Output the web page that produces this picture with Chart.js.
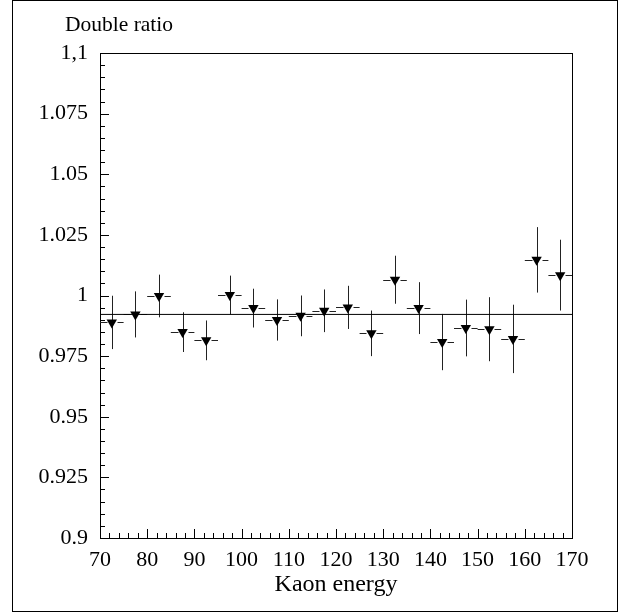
<!DOCTYPE html>
<html>
<head>
<meta charset="utf-8">
<script src="https://cdn.jsdelivr.net/npm/chart.js@4.4.0/dist/chart.umd.min.js"></script>
<style>
html, body { margin: 0; padding: 0; background: #fff; }
#chart { display: block; }
</style>
</head>
<body>
<canvas id="chart" width="619" height="614"></canvas>
<script>
// kaon energy bins (centres) and half widths
const energy = [72.5, 77.5, 82.5, 87.5, 92.5, 97.5, 102.5, 107.5, 112.5, 117.5,
                122.5, 127.5, 132.5, 137.5, 142.5, 147.5, 152.5, 157.5, 162.5, 167.5];
const energyErr = [2.5, 2.5, 2.5, 2.5, 2.5, 2.5, 2.5, 2.5, 2.5, 2.5,
                   2.5, 2.5, 2.5, 2.5, 2.5, 2.5, 2.5, 2.5, 2.5, 2.5];
const ratio = [0.9889, 0.9922, 0.9998, 0.9849, 0.9815, 1.0002, 0.9948, 0.9899, 0.9916, 0.9937,
               0.9951, 0.9844, 1.0065, 0.9948, 0.9808, 0.9866, 0.9861, 0.9821, 1.0147, 1.0084];
const ratioErr = [0.0110, 0.0095, 0.0088, 0.0082, 0.0082, 0.0080, 0.0080, 0.0085, 0.0084, 0.0088,
                  0.0089, 0.0094, 0.0099, 0.0107, 0.0116, 0.0117, 0.0132, 0.0141, 0.0135, 0.0146];
const fitLevel = [0.9922];
const yTickLabels = ['0.9', '0.925', '0.95', '0.975', '1', '1.025', '1.05', '1.075', '1,1'];

const serif = '"Liberation Serif", "DejaVu Serif", serif';

// frame, inner ticks, error bars, outer box and the y title
const rootStyle = {
    id: 'rootStyle',
    beforeDatasetsDraw(chart) {
        const ctx = chart.ctx;
        const xs = chart.scales.x, ys = chart.scales.y;
        const {left, right, top, bottom} = chart.chartArea;
        ctx.save();
        ctx.strokeStyle = '#000';
        ctx.lineWidth = 1;

        // outer box
        ctx.strokeRect(12.5, 0.5, 605, 611);

        // plot frame
        ctx.strokeRect(left + 0.5, top + 0.5, right - left, bottom - top);

        // ticks inside the frame
        ctx.beginPath();
        for (let i = 0; i <= 50; i++) {
            const px = Math.round(xs.getPixelForValue(70 + i * 2)) + 0.5;
            const len = i % 5 === 0 ? 9 : 5;
            ctx.moveTo(px, bottom);
            ctx.lineTo(px, bottom - len);
        }
        for (let i = 0; i <= 40; i++) {
            const py = Math.round(ys.getPixelForValue(0.9 + i * 0.005)) + 0.5;
            const len = i % 5 === 0 ? 9 : 5;
            ctx.moveTo(left, py);
            ctx.lineTo(left + len, py);
        }
        ctx.stroke();

        // error bars
        ctx.strokeStyle = '#222';
        ctx.beginPath();
        const gap = 5;
        for (let i = 0; i < energy.length; i++) {
            const cx = Math.round(xs.getPixelForValue(energy[i])) + 0.5;
            const cy = Math.round(ys.getPixelForValue(ratio[i])) + 0.5;
            const x0 = xs.getPixelForValue(energy[i] - energyErr[i]);
            const x1 = xs.getPixelForValue(energy[i] + energyErr[i]);
            const y0 = ys.getPixelForValue(ratio[i] - ratioErr[i]);
            const y1 = ys.getPixelForValue(ratio[i] + ratioErr[i]);
            ctx.moveTo(x0, cy); ctx.lineTo(cx - gap, cy);
            ctx.moveTo(cx + gap, cy); ctx.lineTo(x1, cy);
            ctx.moveTo(cx, y0); ctx.lineTo(cx, y1);
        }
        ctx.stroke();

        // title above the y axis
        ctx.fillStyle = '#000';
        ctx.font = '21.5px ' + serif;
        ctx.textAlign = 'left';
        ctx.textBaseline = 'middle';
        ctx.fillText('Double ratio', 65, 25);
        ctx.restore();
    }
};

new Chart(document.getElementById('chart').getContext('2d'), {
    type: 'scatter',
    data: {
        datasets: [{
            label: 'fit',
            type: 'line',
            data: [{x: 70, y: fitLevel[0]}, {x: 170, y: fitLevel[0]}],
            borderColor: '#000',
            borderWidth: 1,
            pointRadius: 0,
            fill: false
        }, {
            label: 'Double ratio',
            data: energy.map((e, i) => ({x: e, y: ratio[i]})),
            pointStyle: 'triangle',
            rotation: 180,
            pointRadius: 6,
            backgroundColor: '#000',
            borderColor: '#000',
            borderWidth: 0
        }]
    },
    options: {
        responsive: false,
        animation: false,
        layout: { padding: { top: 53, right: 47, left: 0, bottom: 0 } },
        plugins: {
            legend: { display: false },
            tooltip: { enabled: false }
        },
        scales: {
            x: {
                type: 'linear',
                min: 70,
                max: 170,
                grid: { display: false, drawTicks: false },
                border: { display: false },
                ticks: {
                    stepSize: 10,
                    padding: 9,
                    maxRotation: 0,
                    color: '#000',
                    font: { family: serif, size: 22 }
                },
                title: {
                    display: true,
                    text: 'Kaon energy',
                    color: '#000',
                    font: { family: serif, size: 24 },
                    padding: { top: 0, bottom: 15 }
                },
                afterFit(scale) { scale.height = 76; }
            },
            y: {
                min: 0.9,
                max: 1.1,
                grid: { display: false, drawTicks: false },
                border: { display: false },
                ticks: {
                    stepSize: 0.025,
                    padding: 12,
                    color: '#000',
                    font: { family: serif, size: 22 },
                    callback: (v, i) => yTickLabels[i]
                },
                afterFit(scale) { scale.width = 100; }
            }
        }
    },
    plugins: [rootStyle]
});
</script>
</body>
</html>
